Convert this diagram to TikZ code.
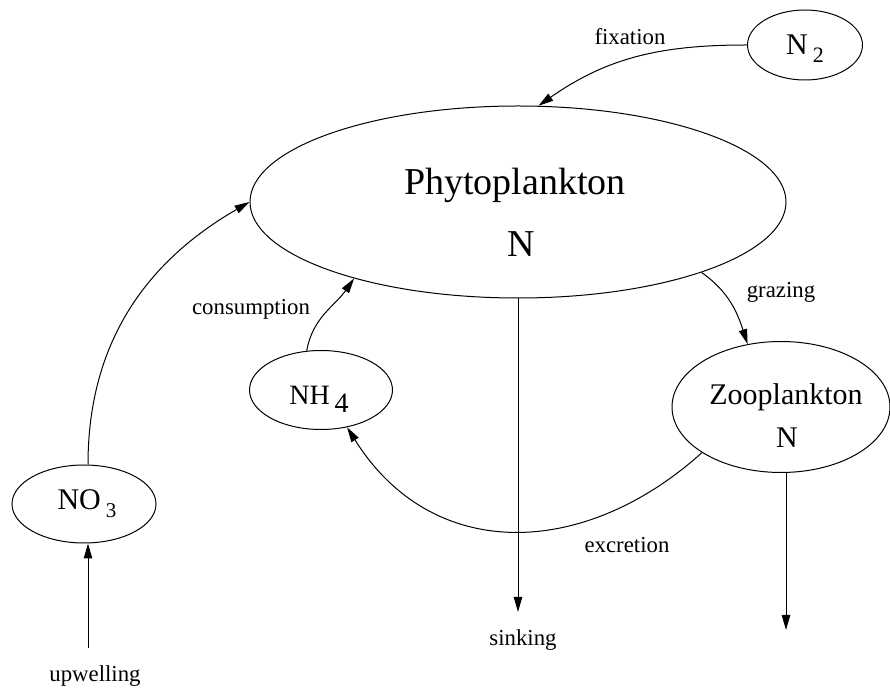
\documentclass[tikz,border=0pt]{standalone}
\usepackage{fontspec}
\setmainfont{Liberation Serif}
\usetikzlibrary{shapes.geometric,arrows.meta}
\begin{document}
\begin{tikzpicture}[x=0.5pt,y=0.5pt,line width=0.5pt,
    pool/.style={draw,ellipse,inner sep=0pt},
    flow/.style={-{Triangle[length=7.5pt,width=4.2pt]}},
    lab/.style={anchor=base,font=\fontsize{11.4}{13}\selectfont},
    big/.style={anchor=base,font=\fontsize{19}{22}\selectfont},
    med/.style={anchor=base,font=\fontsize{15}{18}\selectfont}]
    \useasboundingbox (0,0) rectangle (890,-689);
    \node[pool,minimum width=268pt,minimum height=96pt] (phyto) at (518,-202) {};
    \node[pool,minimum width=57.5pt,minimum height=35pt] (ntwo) at (805,-45) {};
    \node[pool,minimum width=71.5pt,minimum height=39.5pt] (nhfour) at (321,-390) {};
    \node[pool,minimum width=109pt,minimum height=65.5pt] (zoo) at (781,-407) {};
    \node[pool,minimum width=72pt,minimum height=39pt] (nothree) at (84,-504) {};
    \node[big] (phytoname) at (515,-195) {Phytoplankton};
    \node[big] (phyton) at (521,-257) {N};
    \node[med] (zooname) at (786,-405) {Zooplankton};
    \node[med] (zoon) at (787,-448) {N};
    \node[med,font=\fontsize{14}{17}\selectfont] (nhname) at (319,-405) {NH\,\raisebox{-4pt}{4}};
    \node[med] (noname) at (87,-510) {NO\,\raisebox{-4pt}{\fontsize{10.5}{11}\selectfont 3}};
    \node[med] (ntwoname) at (805,-55) {N\,\raisebox{-4pt}{\fontsize{11}{11}\selectfont 2}};
    \coordinate (upw) at (88,-648);
    \coordinate (sink) at (518,-612);
    \coordinate (zsink) at (786,-630);
    \draw[flow] (upw) -- (nothree.south -| upw);
    \draw[flow] (nothree.north -| upw) to[out=90,in=210] (phyto.west);
    \draw[flow] (nhfour.110) to[out=80,in=235] (phyto.205);
    \draw[flow] (ntwo.west) to[out=180,in=35] (phyto.78);
    \draw[flow] (phyto.339) to[out=-35,in=108] (zoo.118);
    \draw[flow] (zoo.210) to[out=222,in=302,looseness=1.15] (nhfour.305);
    \draw[flow] (phyto.south) -- (sink);
    \draw[flow] (zoo.south -| zsink) -- (zsink);
    \node[lab] (fixlab) at (630,-45) {fixation};
    \node[lab] (grazlab) at (781,-298) {grazing};
    \node[lab] (conslab) at (251,-315) {consumption};
    \node[lab] (exclab) at (627,-553) {excretion};
    \node[lab] (sinklab) at (523,-646) {sinking};
    \node[lab] (upwlab) at (95,-682) {upwelling};
\end{tikzpicture}
\end{document}
